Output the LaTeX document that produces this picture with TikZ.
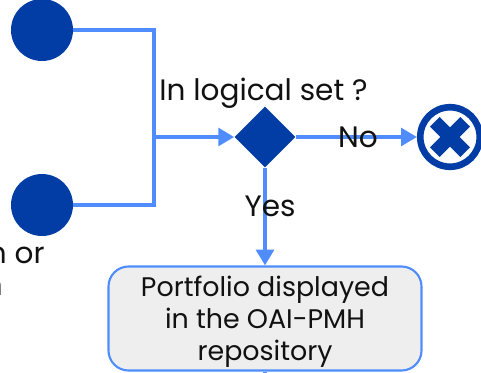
\documentclass[tikz,border=0pt]{standalone}
\usepackage{fontspec}
\setmainfont{Poppins}
\usetikzlibrary{arrows.meta,shapes.geometric}
\definecolor{linkblue}{HTML}{4F8DFF}
\definecolor{darkblue}{HTML}{013DA5}
\definecolor{boxgray}{HTML}{EEEEEE}
\definecolor{textblack}{HTML}{111111}
\tikzset{
	flow/.style={draw=linkblue, line width=2.3pt},
	flowarrow/.style={flow, -{Triangle[length=9pt,width=10pt]}},
	event/.style={circle, fill=darkblue, minimum size=1.24cm, inner sep=0pt},
	gate/.style={diamond, fill=darkblue, minimum size=1.22cm, inner sep=0pt, aspect=1},
	crossbar/.style={fill=darkblue, minimum width=0.86cm, minimum height=0.27cm, inner sep=0pt},
	caption/.style={text=textblack, font=\fontsize{16.8}{20}\selectfont, inner sep=0pt},
}
\begin{document}
\begin{tikzpicture}
	\useasboundingbox (0,0) rectangle (9.62,7.44);
	\node (E1) at (0.84, 6.84)	[event]	{};
	\node (E2) at (0.84, 3.34)	[event]	{};
	\coordinate (J1) at (3.08, 6.84);
	\coordinate (J2) at (3.08, 3.34);
	\coordinate (J3) at (3.08, 4.70);
	\coordinate (B1) at (5.30, 0);
	\node (G1) at (5.30, 4.70)	[gate]	{};
	\node (X1) at (9.00, 4.70)	[circle, draw=darkblue, line width=3.8pt, fill=white, minimum size=1.19cm, inner sep=0pt]	{};
	\node (X2) at (9.00, 4.70)	[crossbar, rotate=45]	{};
	\node (X3) at (9.00, 4.70)	[crossbar, rotate=-45]	{};
	\node (P1) at (5.30, 1.07)	[draw=linkblue, line width=1.2pt, fill=boxgray, rounded corners=0.4cm, minimum width=6.26cm, minimum height=2.08cm, inner sep=0pt]	{};
	\node (P2) at (5.30, 1.01)	[text=textblack, font=\fontsize{15.3}{18.2}\selectfont, inner sep=0pt, align=center]	{Portfolio displayed\\in the OAI-PMH\\repository};
	\draw[flow] (E1) -- (J1) -- (J2) -- (E2);
	\draw[flowarrow] (J3) -- (G1);
	\draw[flowarrow] (G1) -- (X1);
	\draw[flowarrow] (G1) -- (P1);
	\draw[flow] (P1) -- (B1);
	\node (T1) at (5.27, 5.58)	[caption]	{In logical set ?};
	\node (T2) at (7.16, 4.70)	[caption]	{No};
	\node (T3) at (5.40, 3.32)	[caption]	{Yes};
	\node (T4) at (0.90, 2.34)	[caption, anchor=east]	{n or};
	\node (T5) at (0.06, 1.70)	[caption, anchor=east]	{n};
\end{tikzpicture}
\end{document}
